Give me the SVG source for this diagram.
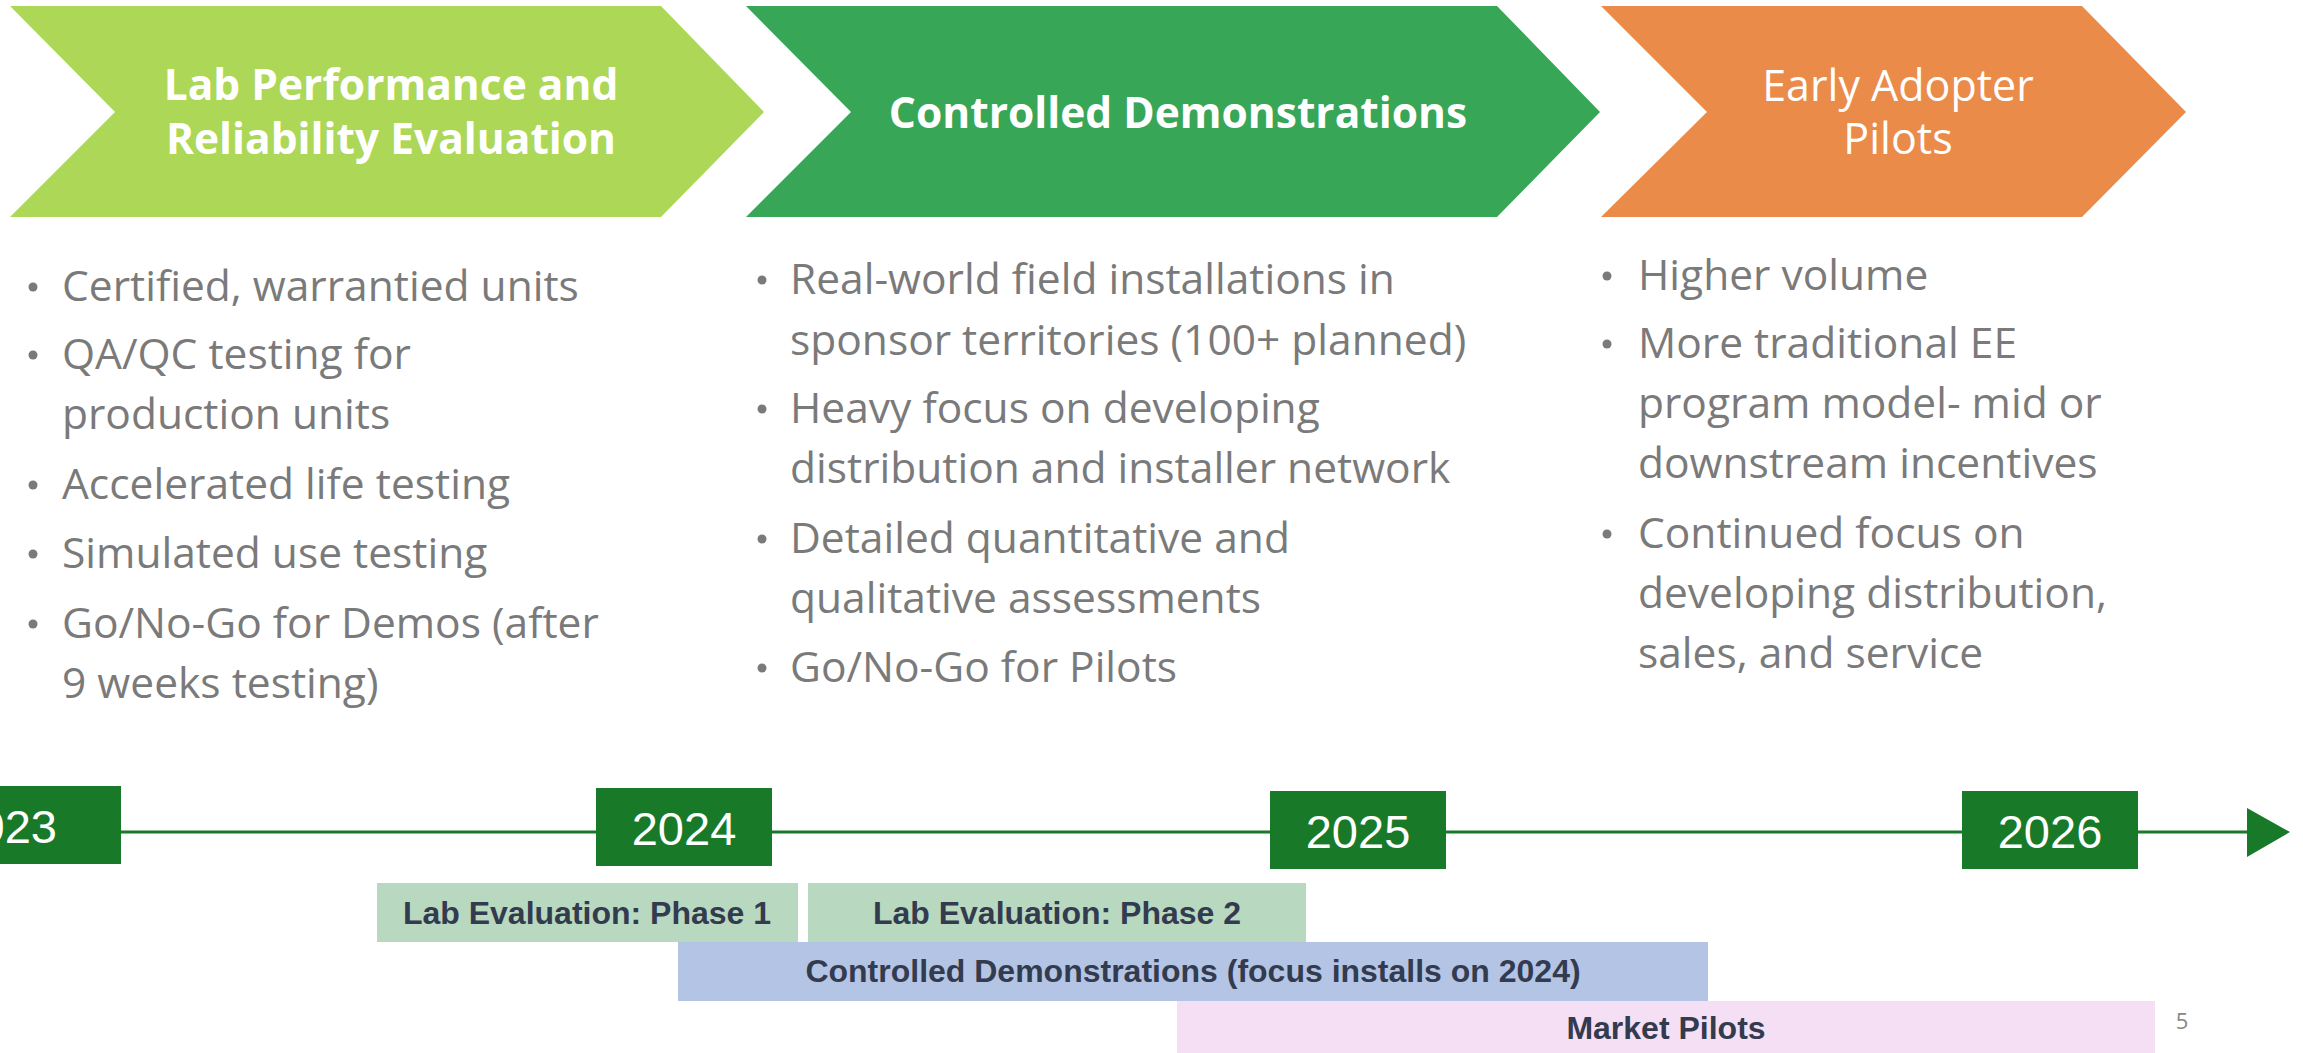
<svg xmlns="http://www.w3.org/2000/svg" width="2303" height="1053" viewBox="0 0 2303 1053">
<style>
.title{font-family:"Open Sans","Noto Sans",sans-serif;font-size:42.5px;fill:#fff;text-anchor:middle}
.bold{font-weight:700}
.reg{font-size:43px}
.bul{font-family:"Open Sans","Noto Sans",sans-serif;font-size:42.5px;fill:#7a7a7a}
.dot{fill:#7a7a7a}
.year{fill:#187a28}
.ytxt{font-family:"Liberation Sans",Arial,sans-serif;font-size:47px;fill:#fff;text-anchor:middle}
.bar{font-family:"Liberation Sans",Arial,sans-serif;font-size:32px;font-weight:700;fill:#333b4f;text-anchor:middle}
</style>
<rect width="2303" height="1053" fill="#fff"/>

<g id="phase-lab">
<polygon points="10,6 661,6 764,112 661,217 10,217 115,112" fill="#acd757"/>
<text class="title bold" x="391" y="100">Lab Performance and</text>
<text class="title bold" x="391" y="154">Reliability Evaluation</text>
</g>
<g id="phase-demo">
<polygon points="746,6 1497,6 1600,112 1497,217 746,217 851,112" fill="#37a657"/>
<text class="title bold" x="1178" y="128">Controlled Demonstrations</text>
</g>
<g id="phase-pilot">
<polygon points="1601,6 2082,6 2186,112 2082,217 1601,217 1707,112" fill="#ea8b4a"/>
<text class="title reg" x="1898" y="101">Early Adopter</text>
<text class="title reg" x="1898" y="154">Pilots</text>
</g>

<g id="bullets-lab">
<circle class="dot" cx="33" cy="287" r="4.5"/>
<text class="bul" x="62" y="301">Certified, warrantied units</text>
<circle class="dot" cx="33" cy="355" r="4.5"/>
<text class="bul" x="62" y="369">QA/QC testing for</text>
<text class="bul" x="62" y="429">production units</text>
<circle class="dot" cx="33" cy="485" r="4.5"/>
<text class="bul" x="62" y="499">Accelerated life testing</text>
<circle class="dot" cx="33" cy="554" r="4.5"/>
<text class="bul" x="62" y="568">Simulated use testing</text>
<circle class="dot" cx="33" cy="624" r="4.5"/>
<text class="bul" x="62" y="638">Go/No-Go for Demos (after</text>
<text class="bul" x="62" y="698">9 weeks testing)</text>
</g>
<g id="bullets-demo">
<circle class="dot" cx="762" cy="280" r="4.5"/>
<text class="bul" x="790" y="294">Real-world field installations in</text>
<text class="bul" x="790" y="355">sponsor territories (100+ planned)</text>
<circle class="dot" cx="762" cy="409" r="4.5"/>
<text class="bul" x="790" y="423">Heavy focus on developing</text>
<text class="bul" x="790" y="483">distribution and installer network</text>
<circle class="dot" cx="762" cy="539" r="4.5"/>
<text class="bul" x="790" y="553">Detailed quantitative and</text>
<text class="bul" x="790" y="613">qualitative assessments</text>
<circle class="dot" cx="762" cy="668" r="4.5"/>
<text class="bul" x="790" y="682">Go/No-Go for Pilots</text>
</g>
<g id="bullets-pilot">
<circle class="dot" cx="1607" cy="276" r="4.5"/>
<text class="bul" x="1638" y="290">Higher volume</text>
<circle class="dot" cx="1607" cy="344" r="4.5"/>
<text class="bul" x="1638" y="358">More traditional EE</text>
<text class="bul" x="1638" y="418">program model- mid or</text>
<text class="bul" x="1638" y="478">downstream incentives</text>
<circle class="dot" cx="1607" cy="534" r="4.5"/>
<text class="bul" x="1638" y="548">Continued focus on</text>
<text class="bul" x="1638" y="608">developing distribution,</text>
<text class="bul" x="1638" y="668">sales, and service</text>
</g>

<g id="connectors">
<line x1="0" y1="832" x2="2250" y2="832" stroke="#187a28" stroke-width="3"/>
<polygon points="2247,808 2290,832 2247,857" fill="#187a28"/>
</g>

<g id="year-2023">
<rect class="year" x="-60" y="786" width="181" height="78"/>
<text class="ytxt" x="57" y="843" style="text-anchor:end">2023</text>
</g>
<g id="year-2024">
<rect class="year" x="596" y="788" width="176" height="78"/>
<text class="ytxt" x="684" y="845">2024</text>
</g>
<g id="year-2025">
<rect class="year" x="1270" y="791" width="176" height="78"/>
<text class="ytxt" x="1358" y="848">2025</text>
</g>
<g id="year-2026">
<rect class="year" x="1962" y="791" width="176" height="78"/>
<text class="ytxt" x="2050" y="848">2026</text>
</g>

<g id="bar-lab1">
<rect x="377" y="883" width="421" height="59" fill="#b9d8c0"/>
<text class="bar" x="587" y="924">Lab Evaluation: Phase 1</text>
</g>
<g id="bar-lab2">
<rect x="808" y="883" width="498" height="59" fill="#b9d8c0"/>
<text class="bar" x="1057" y="924">Lab Evaluation: Phase 2</text>
</g>
<g id="bar-demo">
<rect x="678" y="942" width="1030" height="59" fill="#b4c4e4"/>
<text class="bar" x="1193" y="982">Controlled Demonstrations (focus installs on 2024)</text>
</g>
<g id="bar-pilots">
<rect x="1177" y="1001" width="978" height="52" fill="#f5dff4"/>
<text class="bar" x="1666" y="1039">Market Pilots</text>
</g>

<text x="2182" y="1029" font-family="Open Sans, sans-serif" font-size="22" fill="#888" text-anchor="middle">5</text>
</svg>
